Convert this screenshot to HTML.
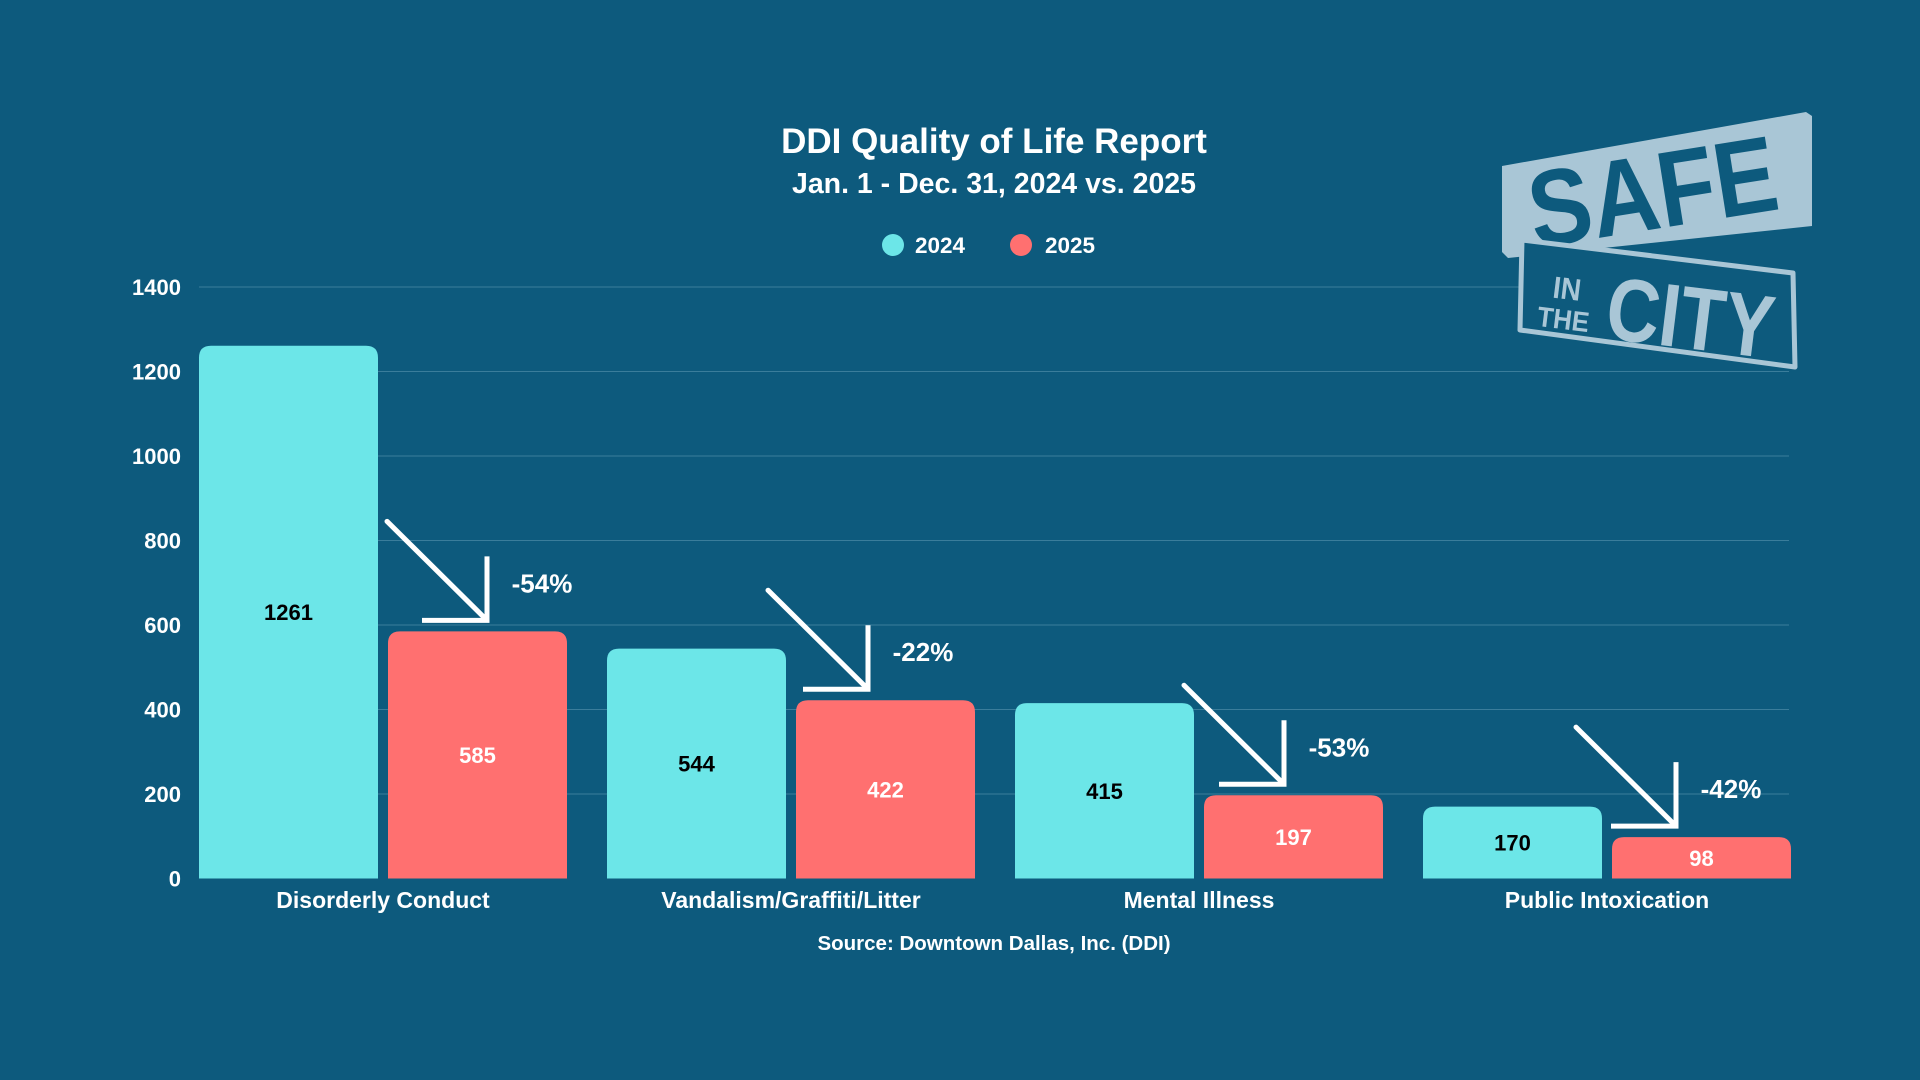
<!DOCTYPE html>
<html><head><meta charset="utf-8">
<style>
html,body{margin:0;padding:0;background:#0d5a7d;}
body{width:1920px;height:1080px;overflow:hidden;font-family:"Liberation Sans",Arial,sans-serif;}
svg{display:block}
text{font-family:"Liberation Sans",Arial,sans-serif;font-weight:bold}
</style></head>
<body>
<svg id="chart" width="1920" height="1080" viewBox="0 0 1920 1080">
  <rect width="1920" height="1080" fill="#0d5a7d"/>
  <text x="994" y="153" text-anchor="middle" font-size="35" fill="#fff">DDI Quality of Life Report</text>
  <text x="994" y="193" text-anchor="middle" font-size="28.5" fill="#fff">Jan. 1 - Dec. 31, 2024 vs. 2025</text>
  <g>
    <g>
      <circle cx="893" cy="245" r="11" fill="#6ce6e8"/>
      <text x="915" y="253" font-size="22.5" fill="#fff">2024</text>
    </g>
    <g>
      <circle cx="1021" cy="245" r="11" fill="#ff7070"/>
      <text x="1045" y="253" font-size="22.5" fill="#fff">2025</text>
    </g>
  </g>
  <g id="grid"></g>
  <g id="yaxis"></g>
  <g id="bars"></g>
  <g id="arrows"></g>
  <g id="xaxis"></g>
  <text x="994" y="950" text-anchor="middle" font-size="20.5" fill="#fff">Source: Downtown Dallas, Inc. (DDI)</text>

  <g>
    <polygon points="1502,166 1806,112 1812,116 1812,226 1508,258 1502,252" fill="#a9c6d6"/>
    <g transform="translate(1535,248) rotate(-9) scale(1,1.25)">
      <text x="0" y="0" font-size="86" fill="#0d5a7d" textLength="250" lengthAdjust="spacingAndGlyphs">SAFE</text>
    </g>
    <polygon points="1522,240 1793,273 1795,367 1520,330" fill="#0d5a7d" stroke="#a9c6d6" stroke-width="5" stroke-linejoin="round"/>
    <g transform="translate(1540,296) rotate(7)" fill="#a9c6d6">
      <text x="12" y="0" font-size="28" transform="scale(1,1.1)">IN</text>
      <text x="0" y="30" font-size="28" textLength="52" lengthAdjust="spacingAndGlyphs">THE</text>
      <g transform="translate(68,34) scale(1,1.35)"><text x="0" y="0" font-size="66" textLength="168" lengthAdjust="spacingAndGlyphs">CITY</text></g>
    </g>
  </g>
</svg>
<script>
const categories = ["Disorderly Conduct","Vandalism/Graffiti/Litter","Mental Illness","Public Intoxication"];
const values2024 = [1261, 544, 415, 170];
const values2025 = [585, 422, 197, 98];
const changeLabels = ["-54%","-22%","-53%","-42%"];
const yTicks = [0,200,400,600,800,1000,1200,1400];
const arrowOffsets = [99, 72, 80, 64];

const NS = "http://www.w3.org/2000/svg";
const plotLeft = 199, plotRight = 1791, y0 = 878.5, yMax = 1400, yTop = 287;
const pitch = 408, barW = 179, innerGap = 10;
function y(v){ return y0 - (v / yMax) * (y0 - yTop); }
function gx(i){ return plotLeft + i * pitch; }
function mk(tag, attrs, parent){ const e = document.createElementNS(NS, tag); for (const k in attrs) e.setAttribute(k, attrs[k]); parent.appendChild(e); return e; }
function barPath(x, yt, w, h, r){
  r = Math.min(r, h, w/2);
  return `M${x},${yt+h} L${x},${yt+r} Q${x},${yt} ${x+r},${yt} L${x+w-r},${yt} Q${x+w},${yt} ${x+w},${yt+r} L${x+w},${yt+h} Z`;
}
const grid = document.getElementById('grid'), yaxis = document.getElementById('yaxis');
yTicks.forEach(t => {
  if (t > 0) {
    const l = mk('line', {x1: plotLeft, x2: 1789, y1: y(t), y2: y(t), stroke: '#3a7d9b', 'stroke-width': 1}, grid);
    
    
  }
  const tx = mk('text', {x: 181, y: y(t) + 8, 'text-anchor': 'end', 'font-size': 22, fill: '#fff'}, yaxis);
  tx.textContent = t;
  
  
});
const bars = document.getElementById('bars'), arrows = document.getElementById('arrows'), xaxis = document.getElementById('xaxis');
categories.forEach((c, i) => {
  const x1 = gx(i), x2 = gx(i) + barW + innerGap;
  const b1 = mk('path', {d: barPath(x1, y(values2024[i]), barW, y0 - y(values2024[i]), 12), fill: '#6ce6e8'}, bars);
  
  
  const b2 = mk('path', {d: barPath(x2, y(values2025[i]), barW, y0 - y(values2025[i]), 12), fill: '#ff7070'}, bars);
  
  
  const v1 = mk('text', {x: x1 + barW/2, y: (y(values2024[i]) + y0)/2 + 8, 'text-anchor': 'middle', 'font-size': 22, fill: '#000'}, bars);
  v1.textContent = values2024[i];
  
  
  const v2 = mk('text', {x: x2 + barW/2, y: (y(values2025[i]) + y0)/2 + 8, 'text-anchor': 'middle', 'font-size': 22, fill: '#fff'}, bars);
  v2.textContent = values2025[i];
  
  
  const tipX = x2 + arrowOffsets[i], tipY = y(values2025[i]) - 11;
  const g = mk('g', {stroke: '#fff', 'stroke-width': 5, fill: 'none', 'stroke-linecap': 'round'}, arrows);
  
  
  mk('line', {x1: tipX - 100, y1: tipY - 99, x2: tipX - 2, y2: tipY - 2}, g);
  mk('polyline', {points: `${tipX},${tipY-64} ${tipX},${tipY} ${tipX-65},${tipY}`, 'stroke-linecap': 'butt', 'stroke-linejoin': 'miter'}, g);
  const pl = mk('text', {x: tipX + 55, y: tipY - 28, 'text-anchor': 'middle', 'font-size': 26, fill: '#fff'}, arrows);
  pl.textContent = changeLabels[i];
  
  
  const cl = mk('text', {x: x1 + barW + innerGap/2, y: 908, 'text-anchor': 'middle', 'font-size': 23, fill: '#fff'}, xaxis);
  cl.textContent = c;
  
  
});
</script>
</body></html>
